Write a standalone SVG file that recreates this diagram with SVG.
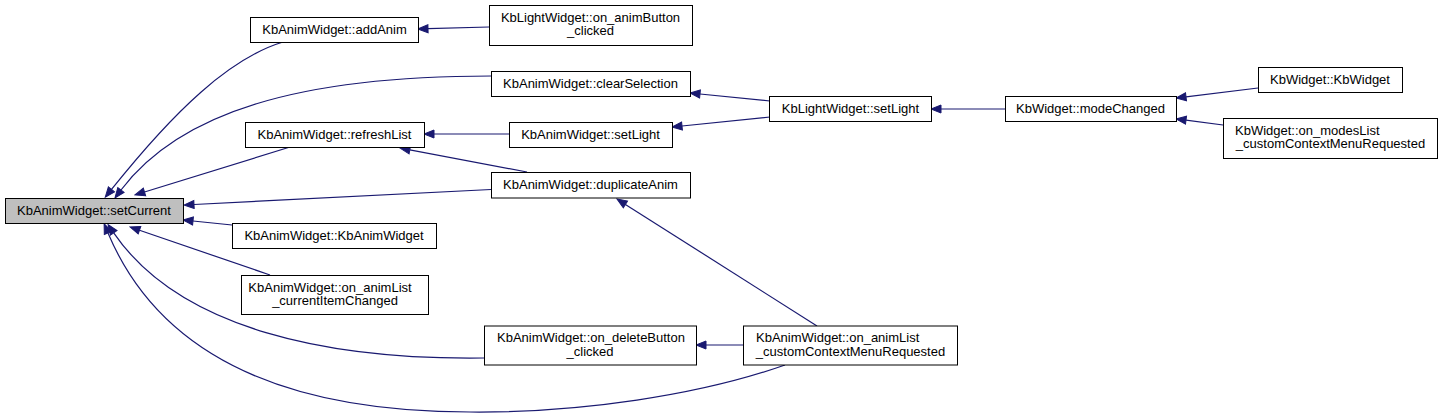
<svg xmlns="http://www.w3.org/2000/svg" width="1443" height="419" viewBox="0 0 1443 419">
<style>
.n rect{fill:#ffffff;stroke:#000000;stroke-width:1}
.n.cur rect{fill:#bfbfbf}
.n text{font-family:"Liberation Sans",Arial,sans-serif;font-size:13px;fill:#000000;text-anchor:middle}
.n text.l{text-anchor:start}
.e path{fill:none;stroke:#191970;stroke-width:1.2;marker-end:url(#ah)}
</style>
<defs>
<marker id="ah" markerUnits="userSpaceOnUse" viewBox="-1 -1 12 10" markerWidth="12" markerHeight="10" refX="0" refY="4" orient="auto">
<path d="M0,0 L10,4 L0,8 z" fill="#191970" stroke="#191970" stroke-width="1"/>
</marker>
</defs>
<rect x="0" y="0" width="1443" height="419" fill="#ffffff"/>
<g id="connectors" class="e">
<path d="M283,42 C230,58 175,110 111.5,189.4"/>
<path d="M491,76 C300,76 180,112 121,190"/>
<path d="M290,147 L144.5,192"/>
<path d="M491,189.5 L194,204.5"/>
<path d="M232,225 L193,221"/>
<path d="M270,275 L139.5,230.2"/>
<path d="M484,358 C330,360 180,330 113.7,232.8"/>
<path d="M785,365 C700,395 580,413 470,412 C330,412 170,380 108,233"/>
<path d="M489,27 L428,28.7"/>
<path d="M770,101 L700,94"/>
<path d="M770,117 L682,126"/>
<path d="M509,134 L434,134"/>
<path d="M527,172 L409.8,149.9"/>
<path d="M817,326 L625.4,204.4"/>
<path d="M743,345 L706,345"/>
<path d="M1005,109 L941,109"/>
<path d="M1258,88 L1186,96.8"/>
<path d="M1223,125 L1186,120.2"/>
</g>
<g id="setCurrent" class="n cur"><rect x="5.5" y="198.5" width="178" height="25"/><text x="94" y="214.5">KbAnimWidget::setCurrent</text></g>
<g id="addAnim" class="n"><rect x="250.5" y="17.5" width="168" height="25"/><text x="334.5" y="33.5">KbAnimWidget::addAnim</text></g>
<g id="refreshList" class="n"><rect x="245.5" y="122.5" width="179" height="25"/><text x="334.5" y="138.5">KbAnimWidget::refreshList</text></g>
<g id="ctor" class="n"><rect x="232.5" y="223.5" width="204" height="25"/><text x="334" y="239.5">KbAnimWidget::KbAnimWidget</text></g>
<g id="currentItemChanged" class="n"><rect x="241.5" y="275.5" width="187" height="39"/><text x="330" y="291.5">KbAnimWidget::on_animList</text><text x="335" y="305">_currentItemChanged</text></g>
<g id="animButtonClicked" class="n"><rect x="489.5" y="5.5" width="203" height="40"/><text x="590.5" y="21.5">KbLightWidget::on_animButton</text><text x="590.5" y="35">_clicked</text></g>
<g id="clearSelection" class="n"><rect x="491.5" y="71.5" width="199" height="25"/><text x="590.5" y="87.5">KbAnimWidget::clearSelection</text></g>
<g id="animSetLight" class="n"><rect x="509.5" y="122.5" width="163" height="25"/><text x="590.5" y="138.5">KbAnimWidget::setLight</text></g>
<g id="duplicateAnim" class="n"><rect x="491.5" y="172.5" width="199" height="25.5"/><text x="590.5" y="188.5">KbAnimWidget::duplicateAnim</text></g>
<g id="deleteButtonClicked" class="n"><rect x="484.5" y="326" width="212" height="39"/><text x="591" y="342">KbAnimWidget::on_deleteButton</text><text x="590" y="355.5">_clicked</text></g>
<g id="animListContextMenu" class="n"><rect x="743.5" y="326" width="214" height="39"/><text class="l" x="756" y="342">KbAnimWidget::on_animList</text><text x="850.5" y="355.5">_customContextMenuRequested</text></g>
<g id="lightSetLight" class="n"><rect x="769.5" y="96.5" width="162" height="25"/><text x="850.5" y="112.5">KbLightWidget::setLight</text></g>
<g id="modeChanged" class="n"><rect x="1005.5" y="96.5" width="171" height="25"/><text x="1090.5" y="112.5">KbWidget::modeChanged</text></g>
<g id="kbWidget" class="n"><rect x="1258.5" y="67.5" width="144" height="25"/><text x="1330" y="83.5">KbWidget::KbWidget</text></g>
<g id="modesListContextMenu" class="n"><rect x="1223.5" y="118.5" width="214" height="40"/><text class="l" x="1235" y="134.5">KbWidget::on_modesList</text><text x="1330.5" y="148">_customContextMenuRequested</text></g>
</svg>
